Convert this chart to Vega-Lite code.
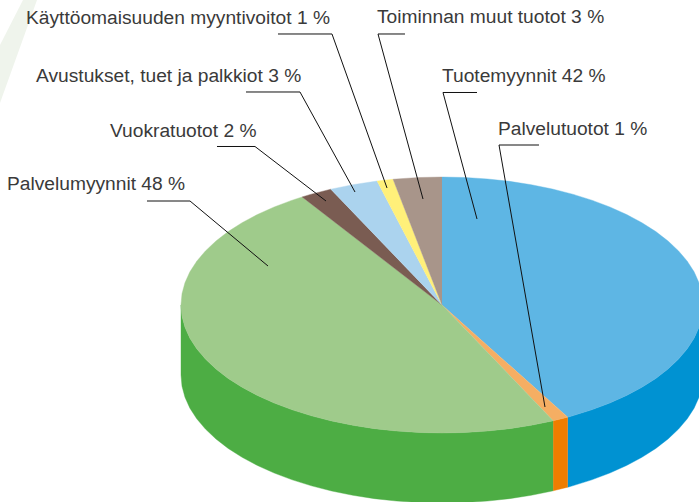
{"$schema":"https://vega.github.io/schema/vega-lite/v6.json","width":699,"height":502,"padding":0,"autosize":{"type":"none"},"background":"white","view":{"stroke":null},
"config":{"axis":{"domain":false,"grid":false,"ticks":false,"labels":false,"title":null}},
"layer":[
{"data":{"values":[{"j":0,"x":-1.6054,"y":2.3828},{"j":1,"x":-1.5517,"y":2.3828},{"j":2,"x":-1.6935,"y":1.5781},{"j":3,"x":-1.6935,"y":2.0313}]},
"mark":{"type":"line","filled":true,"fill":"#EFF4EC","stroke":null,"clip":true},
"encoding":{"x":{"field":"x","type":"quantitative","scale":{"domain":[-1.69349,0.98467]},"axis":null},"y":{"field":"y","type":"quantitative","scale":{"domain":[-1.53906,2.38281]},"axis":null},"order":{"field":"j"}}},
{"data":{"values":[
{"s":"Tuotemyynnit sivu","j":0,"x":1,"y":0},{"s":"Tuotemyynnit sivu","j":1,"x":0.9962,"y":-0.0872},{"s":"Tuotemyynnit sivu","j":2,"x":0.9848,"y":-0.1736},{"s":"Tuotemyynnit sivu","j":3,"x":0.9659,"y":-0.2588},{"s":"Tuotemyynnit sivu","j":4,"x":0.9397,"y":-0.342},{"s":"Tuotemyynnit sivu","j":5,"x":0.9063,"y":-0.4226},{"s":"Tuotemyynnit sivu","j":6,"x":0.866,"y":-0.5},{"s":"Tuotemyynnit sivu","j":7,"x":0.8192,"y":-0.5736},{"s":"Tuotemyynnit sivu","j":8,"x":0.766,"y":-0.6428},{"s":"Tuotemyynnit sivu","j":9,"x":0.7071,"y":-0.7071},{"s":"Tuotemyynnit sivu","j":10,"x":0.6428,"y":-0.766},{"s":"Tuotemyynnit sivu","j":11,"x":0.5736,"y":-0.8192},{"s":"Tuotemyynnit sivu","j":12,"x":0.5,"y":-0.866},{"s":"Tuotemyynnit sivu","j":13,"x":0.4818,"y":-0.8763},
{"s":"Tuotemyynnit sivu","j":14,"x":0.4818,"y":-1.4232},{"s":"Tuotemyynnit sivu","j":15,"x":0.5,"y":-1.4129},{"s":"Tuotemyynnit sivu","j":16,"x":0.5736,"y":-1.3661},{"s":"Tuotemyynnit sivu","j":17,"x":0.6428,"y":-1.3129},{"s":"Tuotemyynnit sivu","j":18,"x":0.7071,"y":-1.254},{"s":"Tuotemyynnit sivu","j":19,"x":0.766,"y":-1.1897},{"s":"Tuotemyynnit sivu","j":20,"x":0.8192,"y":-1.1205},{"s":"Tuotemyynnit sivu","j":21,"x":0.866,"y":-1.0469},{"s":"Tuotemyynnit sivu","j":22,"x":0.9063,"y":-0.9695},{"s":"Tuotemyynnit sivu","j":23,"x":0.9397,"y":-0.8889},{"s":"Tuotemyynnit sivu","j":24,"x":0.9659,"y":-0.8057},{"s":"Tuotemyynnit sivu","j":25,"x":0.9848,"y":-0.7205},{"s":"Tuotemyynnit sivu","j":26,"x":0.9962,"y":-0.6341},{"s":"Tuotemyynnit sivu","j":27,"x":1,"y":-0.5469},
{"s":"Palvelutuotot sivu","j":0,"x":0.4818,"y":-0.8763},{"s":"Palvelutuotot sivu","j":1,"x":0.4258,"y":-0.9048},{"s":"Palvelutuotot sivu","j":2,"x":0.4258,"y":-1.4517},{"s":"Palvelutuotot sivu","j":3,"x":0.4818,"y":-1.4232},
{"s":"Palvelumyynnit sivu","j":0,"x":0.4258,"y":-0.9048},{"s":"Palvelumyynnit sivu","j":1,"x":0.4226,"y":-0.9063},{"s":"Palvelumyynnit sivu","j":2,"x":0.342,"y":-0.9397},{"s":"Palvelumyynnit sivu","j":3,"x":0.2588,"y":-0.9659},{"s":"Palvelumyynnit sivu","j":4,"x":0.1736,"y":-0.9848},{"s":"Palvelumyynnit sivu","j":5,"x":0.0872,"y":-0.9962},{"s":"Palvelumyynnit sivu","j":6,"x":0,"y":-1},{"s":"Palvelumyynnit sivu","j":7,"x":-0.0872,"y":-0.9962},{"s":"Palvelumyynnit sivu","j":8,"x":-0.1736,"y":-0.9848},{"s":"Palvelumyynnit sivu","j":9,"x":-0.2588,"y":-0.9659},{"s":"Palvelumyynnit sivu","j":10,"x":-0.342,"y":-0.9397},{"s":"Palvelumyynnit sivu","j":11,"x":-0.4226,"y":-0.9063},{"s":"Palvelumyynnit sivu","j":12,"x":-0.5,"y":-0.866},{"s":"Palvelumyynnit sivu","j":13,"x":-0.5736,"y":-0.8192},{"s":"Palvelumyynnit sivu","j":14,"x":-0.6428,"y":-0.766},{"s":"Palvelumyynnit sivu","j":15,"x":-0.7071,"y":-0.7071},{"s":"Palvelumyynnit sivu","j":16,"x":-0.766,"y":-0.6428},{"s":"Palvelumyynnit sivu","j":17,"x":-0.8192,"y":-0.5736},{"s":"Palvelumyynnit sivu","j":18,"x":-0.866,"y":-0.5},{"s":"Palvelumyynnit sivu","j":19,"x":-0.9063,"y":-0.4226},{"s":"Palvelumyynnit sivu","j":20,"x":-0.9397,"y":-0.342},{"s":"Palvelumyynnit sivu","j":21,"x":-0.9659,"y":-0.2588},{"s":"Palvelumyynnit sivu","j":22,"x":-0.9848,"y":-0.1736},{"s":"Palvelumyynnit sivu","j":23,"x":-0.9962,"y":-0.0872},{"s":"Palvelumyynnit sivu","j":24,"x":-1,"y":0},
{"s":"Palvelumyynnit sivu","j":25,"x":-1,"y":-0.5469},{"s":"Palvelumyynnit sivu","j":26,"x":-0.9962,"y":-0.6341},{"s":"Palvelumyynnit sivu","j":27,"x":-0.9848,"y":-0.7205},{"s":"Palvelumyynnit sivu","j":28,"x":-0.9659,"y":-0.8057},{"s":"Palvelumyynnit sivu","j":29,"x":-0.9397,"y":-0.8889},{"s":"Palvelumyynnit sivu","j":30,"x":-0.9063,"y":-0.9695},{"s":"Palvelumyynnit sivu","j":31,"x":-0.866,"y":-1.0469},{"s":"Palvelumyynnit sivu","j":32,"x":-0.8192,"y":-1.1205},{"s":"Palvelumyynnit sivu","j":33,"x":-0.766,"y":-1.1897},{"s":"Palvelumyynnit sivu","j":34,"x":-0.7071,"y":-1.254},{"s":"Palvelumyynnit sivu","j":35,"x":-0.6428,"y":-1.3129},{"s":"Palvelumyynnit sivu","j":36,"x":-0.5736,"y":-1.3661},{"s":"Palvelumyynnit sivu","j":37,"x":-0.5,"y":-1.4129},{"s":"Palvelumyynnit sivu","j":38,"x":-0.4226,"y":-1.4532},{"s":"Palvelumyynnit sivu","j":39,"x":-0.342,"y":-1.4866},{"s":"Palvelumyynnit sivu","j":40,"x":-0.2588,"y":-1.5128},{"s":"Palvelumyynnit sivu","j":41,"x":-0.1736,"y":-1.5317},{"s":"Palvelumyynnit sivu","j":42,"x":-0.0872,"y":-1.5431},{"s":"Palvelumyynnit sivu","j":43,"x":0,"y":-1.5469},{"s":"Palvelumyynnit sivu","j":44,"x":0.0872,"y":-1.5431},{"s":"Palvelumyynnit sivu","j":45,"x":0.1736,"y":-1.5317},{"s":"Palvelumyynnit sivu","j":46,"x":0.2588,"y":-1.5128},{"s":"Palvelumyynnit sivu","j":47,"x":0.342,"y":-1.4866},{"s":"Palvelumyynnit sivu","j":48,"x":0.4226,"y":-1.4532},{"s":"Palvelumyynnit sivu","j":49,"x":0.4258,"y":-1.4517},
{"s":"Tuotemyynnit","j":0,"x":0,"y":0},{"s":"Tuotemyynnit","j":1,"x":0,"y":1},{"s":"Tuotemyynnit","j":2,"x":0.0872,"y":0.9962},{"s":"Tuotemyynnit","j":3,"x":0.1736,"y":0.9848},{"s":"Tuotemyynnit","j":4,"x":0.2588,"y":0.9659},{"s":"Tuotemyynnit","j":5,"x":0.342,"y":0.9397},{"s":"Tuotemyynnit","j":6,"x":0.4226,"y":0.9063},{"s":"Tuotemyynnit","j":7,"x":0.5,"y":0.866},{"s":"Tuotemyynnit","j":8,"x":0.5736,"y":0.8192},{"s":"Tuotemyynnit","j":9,"x":0.6428,"y":0.766},{"s":"Tuotemyynnit","j":10,"x":0.7071,"y":0.7071},{"s":"Tuotemyynnit","j":11,"x":0.766,"y":0.6428},{"s":"Tuotemyynnit","j":12,"x":0.8192,"y":0.5736},{"s":"Tuotemyynnit","j":13,"x":0.866,"y":0.5},{"s":"Tuotemyynnit","j":14,"x":0.9063,"y":0.4226},{"s":"Tuotemyynnit","j":15,"x":0.9397,"y":0.342},{"s":"Tuotemyynnit","j":16,"x":0.9659,"y":0.2588},{"s":"Tuotemyynnit","j":17,"x":0.9848,"y":0.1736},{"s":"Tuotemyynnit","j":18,"x":0.9962,"y":0.0872},{"s":"Tuotemyynnit","j":19,"x":1,"y":0},{"s":"Tuotemyynnit","j":20,"x":0.9962,"y":-0.0872},{"s":"Tuotemyynnit","j":21,"x":0.9848,"y":-0.1736},{"s":"Tuotemyynnit","j":22,"x":0.9659,"y":-0.2588},{"s":"Tuotemyynnit","j":23,"x":0.9397,"y":-0.342},{"s":"Tuotemyynnit","j":24,"x":0.9063,"y":-0.4226},{"s":"Tuotemyynnit","j":25,"x":0.866,"y":-0.5},{"s":"Tuotemyynnit","j":26,"x":0.8192,"y":-0.5736},{"s":"Tuotemyynnit","j":27,"x":0.766,"y":-0.6428},{"s":"Tuotemyynnit","j":28,"x":0.7071,"y":-0.7071},{"s":"Tuotemyynnit","j":29,"x":0.6428,"y":-0.766},{"s":"Tuotemyynnit","j":30,"x":0.5736,"y":-0.8192},{"s":"Tuotemyynnit","j":31,"x":0.5,"y":-0.866},{"s":"Tuotemyynnit","j":32,"x":0.4818,"y":-0.8763},
{"s":"Palvelutuotot","j":0,"x":0,"y":0},{"s":"Palvelutuotot","j":1,"x":0.4818,"y":-0.8763},{"s":"Palvelutuotot","j":2,"x":0.4258,"y":-0.9048},
{"s":"Palvelumyynnit","j":0,"x":0,"y":0},{"s":"Palvelumyynnit","j":1,"x":0.4258,"y":-0.9048},{"s":"Palvelumyynnit","j":2,"x":0.4226,"y":-0.9063},{"s":"Palvelumyynnit","j":3,"x":0.342,"y":-0.9397},{"s":"Palvelumyynnit","j":4,"x":0.2588,"y":-0.9659},{"s":"Palvelumyynnit","j":5,"x":0.1736,"y":-0.9848},{"s":"Palvelumyynnit","j":6,"x":0.0872,"y":-0.9962},{"s":"Palvelumyynnit","j":7,"x":0,"y":-1},{"s":"Palvelumyynnit","j":8,"x":-0.0872,"y":-0.9962},{"s":"Palvelumyynnit","j":9,"x":-0.1736,"y":-0.9848},{"s":"Palvelumyynnit","j":10,"x":-0.2588,"y":-0.9659},{"s":"Palvelumyynnit","j":11,"x":-0.342,"y":-0.9397},{"s":"Palvelumyynnit","j":12,"x":-0.4226,"y":-0.9063},{"s":"Palvelumyynnit","j":13,"x":-0.5,"y":-0.866},{"s":"Palvelumyynnit","j":14,"x":-0.5736,"y":-0.8192},{"s":"Palvelumyynnit","j":15,"x":-0.6428,"y":-0.766},{"s":"Palvelumyynnit","j":16,"x":-0.7071,"y":-0.7071},{"s":"Palvelumyynnit","j":17,"x":-0.766,"y":-0.6428},{"s":"Palvelumyynnit","j":18,"x":-0.8192,"y":-0.5736},{"s":"Palvelumyynnit","j":19,"x":-0.866,"y":-0.5},{"s":"Palvelumyynnit","j":20,"x":-0.9063,"y":-0.4226},{"s":"Palvelumyynnit","j":21,"x":-0.9397,"y":-0.342},{"s":"Palvelumyynnit","j":22,"x":-0.9659,"y":-0.2588},{"s":"Palvelumyynnit","j":23,"x":-0.9848,"y":-0.1736},{"s":"Palvelumyynnit","j":24,"x":-0.9962,"y":-0.0872},{"s":"Palvelumyynnit","j":25,"x":-1,"y":0},{"s":"Palvelumyynnit","j":26,"x":-0.9962,"y":0.0872},{"s":"Palvelumyynnit","j":27,"x":-0.9848,"y":0.1736},{"s":"Palvelumyynnit","j":28,"x":-0.9659,"y":0.2588},{"s":"Palvelumyynnit","j":29,"x":-0.9397,"y":0.342},{"s":"Palvelumyynnit","j":30,"x":-0.9063,"y":0.4226},{"s":"Palvelumyynnit","j":31,"x":-0.866,"y":0.5},{"s":"Palvelumyynnit","j":32,"x":-0.8192,"y":0.5736},{"s":"Palvelumyynnit","j":33,"x":-0.766,"y":0.6428},{"s":"Palvelumyynnit","j":34,"x":-0.7071,"y":0.7071},{"s":"Palvelumyynnit","j":35,"x":-0.6428,"y":0.766},{"s":"Palvelumyynnit","j":36,"x":-0.5736,"y":0.8192},{"s":"Palvelumyynnit","j":37,"x":-0.5358,"y":0.8443},
{"s":"Vuokratuotot","j":0,"x":0,"y":0},{"s":"Vuokratuotot","j":1,"x":-0.5358,"y":0.8443},{"s":"Vuokratuotot","j":2,"x":-0.5,"y":0.866},{"s":"Vuokratuotot","j":3,"x":-0.4258,"y":0.9048},
{"s":"Avustukset","j":0,"x":0,"y":0},{"s":"Avustukset","j":1,"x":-0.4258,"y":0.9048},{"s":"Avustukset","j":2,"x":-0.342,"y":0.9397},{"s":"Avustukset","j":3,"x":-0.2487,"y":0.9686},
{"s":"Käyttöomaisuus","j":0,"x":0,"y":0},{"s":"Käyttöomaisuus","j":1,"x":-0.2487,"y":0.9686},{"s":"Käyttöomaisuus","j":2,"x":-0.1874,"y":0.9823},
{"s":"Toiminnan muut","j":0,"x":0,"y":0},{"s":"Toiminnan muut","j":1,"x":-0.1874,"y":0.9823},{"s":"Toiminnan muut","j":2,"x":-0.1736,"y":0.9848},{"s":"Toiminnan muut","j":3,"x":-0.0872,"y":0.9962},{"s":"Toiminnan muut","j":4,"x":0,"y":1}
]},
"mark":{"type":"line","filled":true,"strokeWidth":0.4,"clip":true},
"encoding":{"x":{"field":"x","type":"quantitative","scale":{"domain":[-1.69349,0.98467]},"axis":null},"y":{"field":"y","type":"quantitative","scale":{"domain":[-1.53906,2.38281]},"axis":null},"order":{"field":"j"},"detail":{"field":"s"},
"fill":{"field":"s","type":"nominal","legend":null,"scale":{"domain":["Tuotemyynnit sivu","Palvelutuotot sivu","Palvelumyynnit sivu","Tuotemyynnit","Palvelutuotot","Palvelumyynnit","Vuokratuotot","Avustukset","Käyttöomaisuus","Toiminnan muut"],"range":["#0092D2","#EF7D00","#4DAD44","#5EB6E4","#F5AE63","#9FCB8B","#7A5C52","#ABD3EE","#FFF07A","#A8958A"]}},
"stroke":{"field":"s","type":"nominal","legend":null,"scale":{"domain":["Tuotemyynnit sivu","Palvelutuotot sivu","Palvelumyynnit sivu","Tuotemyynnit","Palvelutuotot","Palvelumyynnit","Vuokratuotot","Avustukset","Käyttöomaisuus","Toiminnan muut"],"range":["#0092D2","#EF7D00","#4DAD44","#5EB6E4","#F5AE63","#9FCB8B","#7A5C52","#ABD3EE","#FFF07A","#A8958A"]}}}},
{"data":{"values":[
{"n":"Käyttö","j":0,"x":-0.6284,"y":2.1172},{"n":"Käyttö","j":1,"x":-0.4215,"y":2.1172},{"n":"Käyttö","j":2,"x":-0.2107,"y":0.9141},
{"n":"Avustukset","j":0,"x":-0.751,"y":1.6641},{"n":"Avustukset","j":1,"x":-0.5441,"y":1.6641},{"n":"Avustukset","j":2,"x":-0.3333,"y":0.8828},
{"n":"Vuokra","j":0,"x":-0.8621,"y":1.2383},{"n":"Vuokra","j":1,"x":-0.7165,"y":1.2383},{"n":"Vuokra","j":2,"x":-0.4444,"y":0.8125},
{"n":"Palvelumyynnit","j":0,"x":-1.1303,"y":0.8125},{"n":"Palvelumyynnit","j":1,"x":-0.9655,"y":0.8125},{"n":"Palvelumyynnit","j":2,"x":-0.6667,"y":0.3047},
{"n":"Toiminnan","j":0,"x":-0.1418,"y":2.1172},{"n":"Toiminnan","j":1,"x":-0.2452,"y":2.1172},{"n":"Toiminnan","j":2,"x":-0.0728,"y":0.8281},
{"n":"Tuotemyynnit","j":0,"x":0.1341,"y":1.6602},{"n":"Tuotemyynnit","j":1,"x":0.0038,"y":1.6602},{"n":"Tuotemyynnit","j":2,"x":0.1341,"y":0.6719},
{"n":"Palvelutuotot","j":0,"x":0.3716,"y":1.25},{"n":"Palvelutuotot","j":1,"x":0.2184,"y":1.25},{"n":"Palvelutuotot","j":2,"x":0.3946,"y":-0.7969}
]},
"mark":{"type":"line","stroke":"#111111","strokeWidth":1,"clip":true},
"encoding":{"x":{"field":"x","type":"quantitative","scale":{"domain":[-1.69349,0.98467]},"axis":null},"y":{"field":"y","type":"quantitative","scale":{"domain":[-1.53906,2.38281]},"axis":null},"order":{"field":"j"},"detail":{"field":"n"}}},
{"data":{"values":[
{"t":"Käyttöomaisuuden myyntivoitot 1 %","x":-1.5939,"y":2.1953},
{"t":"Avustukset, tuet ja palkkiot 3 %","x":-1.5556,"y":1.7422},
{"t":"Vuokratuotot 2 %","x":-1.272,"y":1.3125},
{"t":"Palvelumyynnit 48 %","x":-1.6667,"y":0.8984},
{"t":"Toiminnan muut tuotot 3 %","x":-0.249,"y":2.2031},
{"t":"Tuotemyynnit 42 %","x":0,"y":1.7422},
{"t":"Palvelutuotot 1 %","x":0.2146,"y":1.3281}
]},
"mark":{"type":"text","align":"left","baseline":"alphabetic","font":"Liberation Sans","fontSize":19.2,"fill":"#3a3a3a"},
"encoding":{"x":{"field":"x","type":"quantitative","scale":{"domain":[-1.69349,0.98467]},"axis":null},"y":{"field":"y","type":"quantitative","scale":{"domain":[-1.53906,2.38281]},"axis":null},"text":{"field":"t"}}}
]}
